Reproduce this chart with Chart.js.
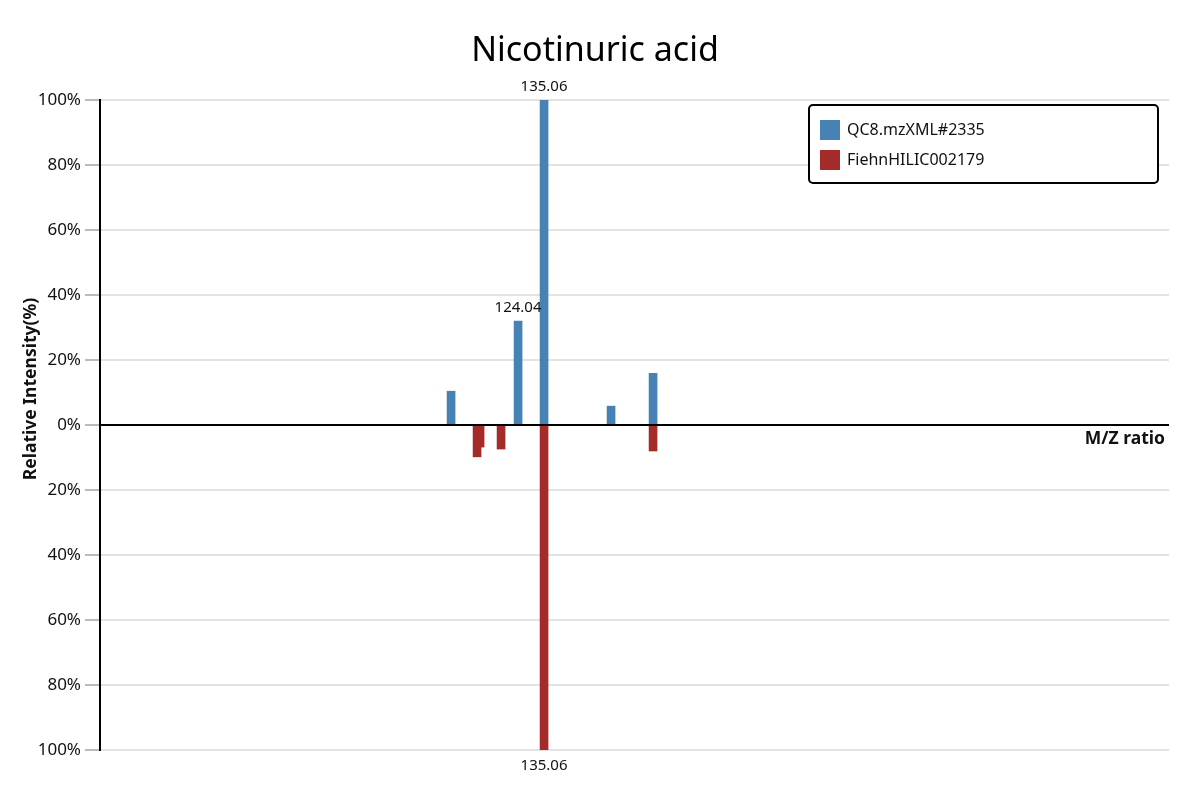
<!DOCTYPE html>
<html>
<head>
<meta charset="utf-8">
<title>Nicotinuric acid</title>
<script src="https://cdn.jsdelivr.net/npm/chart.js@4.4.1/dist/chart.umd.min.js"></script>
<style>
  html, body { margin: 0; padding: 0; background: #fff; }
  #wrap { width: 1200px; height: 800px; }
</style>
</head>
<body>
<div id="wrap"><canvas id="spec" width="1200" height="800"></canvas></div>
<script>
// mirror spectrum: query on top, library reference below
const TITLE = 'Nicotinuric acid';
const queryName = 'QC8.mzXML#2335';
const refName = 'FiehnHILIC002179';

const queryMz = [95.64, 124.04, 135.06, 163.46, 181.27];
const queryInt = [10.4, 32.0, 100, 5.8, 15.9];
const refMz = [106.66, 107.93, 116.83, 135.06, 181.27];
const refInt = [9.8, 6.8, 7.4, 100, 8.0];

// peaks that get their m/z written next to them
const queryLabeled = [124.04, 135.06];
const refLabeled = [135.06];

const mzRange = [-53.2, 400];
const yTicks = [-100, -80, -60, -40, -20, 0, 20, 40, 60, 80, 100];

const BLUE = '#4682b4';
const RED = '#a52a2a';
const FONT = '"Noto Sans", "Open Sans", sans-serif';

const toPoints = (mz, vals, sign) => mz.map((m, i) => ({ x: m, y: sign * vals[i] }));

// zero line, peak labels, axis titles and the boxed legend
const spectrumExtras = {
  id: 'spectrumExtras',
  afterDatasetsDraw(chart) {
    const { ctx, chartArea, scales } = chart;
    const y0 = scales.y.getPixelForValue(0);
    ctx.save();

    ctx.strokeStyle = '#000';
    ctx.lineWidth = 2;
    ctx.beginPath();
    ctx.moveTo(chartArea.left, y0);
    ctx.lineTo(chartArea.right, y0);
    ctx.stroke();

    ctx.fillStyle = '#111';
    ctx.font = '15px ' + FONT;
    ctx.textAlign = 'center';
    ctx.textBaseline = 'middle';
    const labeled = [queryLabeled, refLabeled];
    chart.data.datasets.forEach((ds, di) => {
      const meta = chart.getDatasetMeta(di);
      ds.data.forEach((p, i) => {
        if (!labeled[di].includes(p.x)) return;
        const bar = meta.data[i];
        const ty = p.y >= 0 ? bar.y - 13 : bar.y + 16;
        ctx.fillText(p.x.toFixed(2), bar.x, ty);
      });
    });

    ctx.font = 'bold 17.5px ' + FONT;
    ctx.textAlign = 'right';
    ctx.fillText('M/Z ratio', chartArea.right - 4, y0 + 14);

    ctx.translate(31, 389);
    ctx.rotate(-Math.PI / 2);
    ctx.textAlign = 'center';
    ctx.fillText('Relative Intensity(%)', 0, 0);
    ctx.setTransform(1, 0, 0, 1, 0, 0);

    // legend box
    const lx = chartArea.right - 360, ly = chartArea.top + 5, lw = 349, lh = 78;
    ctx.fillStyle = '#fff';
    ctx.strokeStyle = '#000';
    ctx.lineWidth = 2;
    ctx.beginPath();
    ctx.roundRect(lx, ly, lw, lh, 4);
    ctx.fill();
    ctx.stroke();
    ctx.font = '16px ' + FONT;
    ctx.textAlign = 'left';
    chart.data.datasets.forEach((ds, di) => {
      const iy = ly + 15 + di * 30;
      ctx.fillStyle = ds.backgroundColor;
      ctx.fillRect(lx + 11, iy, 20, 20);
      ctx.fillStyle = '#111';
      ctx.fillText(ds.label, lx + 38, iy + 10);
    });
    ctx.restore();
  }
};

new Chart(document.getElementById('spec').getContext('2d'), {
  type: 'bar',
  data: {
    datasets: [
      { label: queryName, data: toPoints(queryMz, queryInt, 1), backgroundColor: BLUE },
      { label: refName, data: toPoints(refMz, refInt, -1), backgroundColor: RED }
    ]
  },
  options: {
    responsive: false,
    animation: false,
    devicePixelRatio: 1,
    layout: { padding: { left: 21, right: 31, top: 0, bottom: 50 } },
    datasets: { bar: { barThickness: 8, grouped: false } },
    scales: {
      x: {
        type: 'linear',
        min: mzRange[0],
        max: mzRange[1],
        offset: false,
        display: false,
        grid: { offset: false }
      },
      y: {
        min: -100,
        max: 100,
        afterFit: (s) => { s.width = 79; },
        afterBuildTicks: (s) => { s.ticks = yTicks.map(v => ({ value: v })); },
        border: { color: '#000', width: 2 },
        grid: { color: '#e3e3e3', lineWidth: 2, tickColor: '#bbb', tickLength: 15 },
        ticks: {
          padding: 4,
          color: '#111',
          font: { family: FONT, size: 17 },
          callback: (v) => Math.abs(v) + '%'
        }
      }
    },
    plugins: {
      legend: { display: false },
      tooltip: { enabled: false },
      title: {
        display: true,
        text: TITLE,
        color: '#000',
        font: { family: FONT, size: 34, weight: 'normal' },
        padding: { top: 31, bottom: 28.2 }
      }
    }
  },
  plugins: [spectrumExtras]
});
</script>
</body>
</html>
